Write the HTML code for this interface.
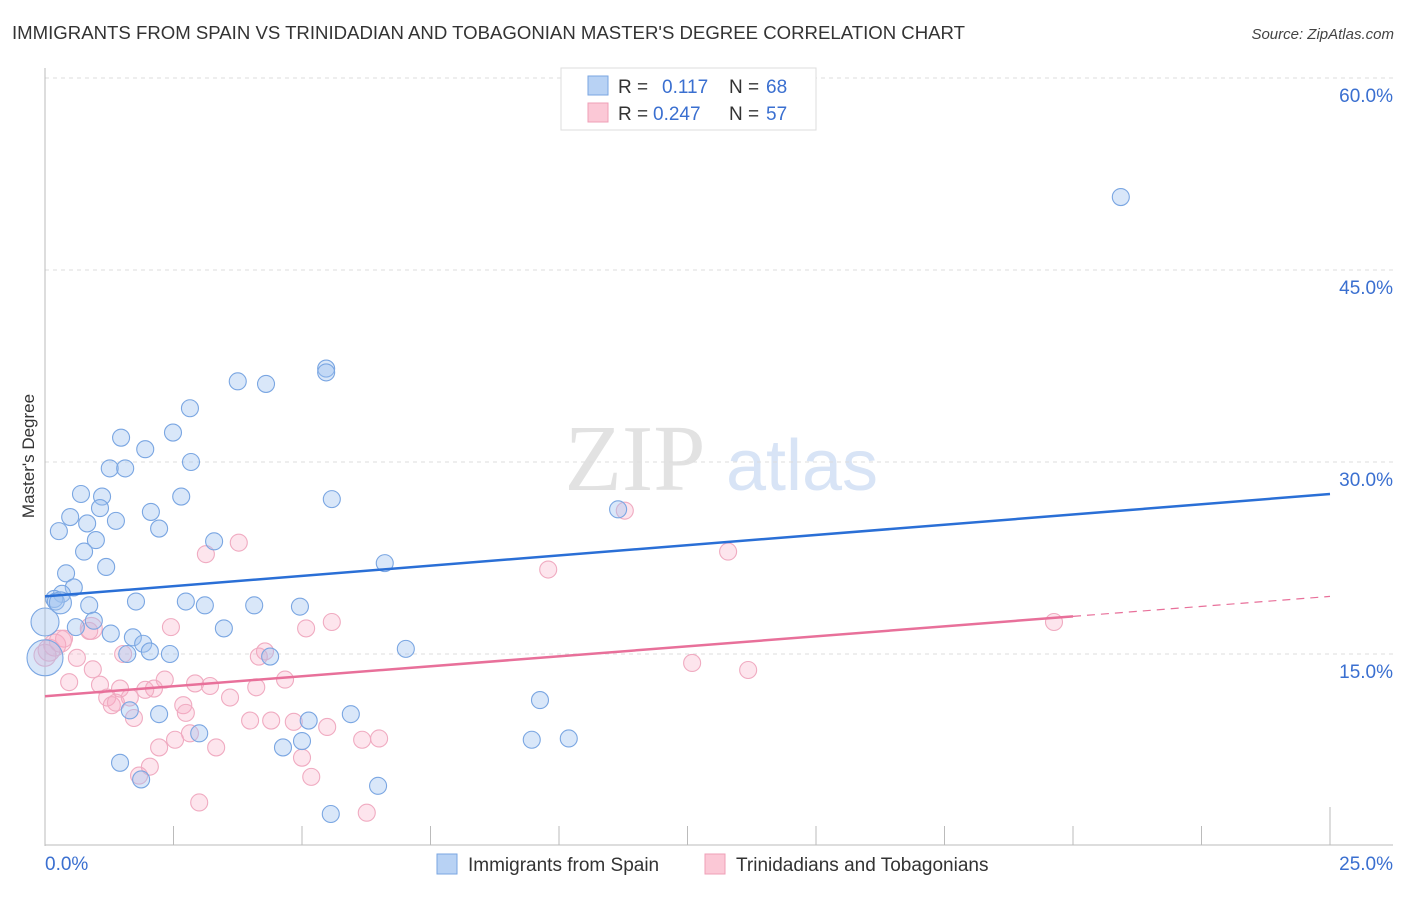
<!DOCTYPE html>
<html><head><meta charset="utf-8"><style>
body{margin:0;background:#fff;font-family:"Liberation Sans",sans-serif}
svg text{font-family:"Liberation Sans",sans-serif}
</style></head><body>
<svg width="1406" height="892" viewBox="0 0 1406 892" xmlns="http://www.w3.org/2000/svg">
<text x="12" y="39" font-size="18" fill="#333" textLength="953" lengthAdjust="spacingAndGlyphs">IMMIGRANTS FROM SPAIN VS TRINIDADIAN AND TOBAGONIAN MASTER'S DEGREE CORRELATION CHART</text>
<text x="1394" y="39" font-size="15" fill="#444" font-style="italic" text-anchor="end">Source: ZipAtlas.com</text>
<g>
<text x="635" y="490" font-size="94" fill="#e2e2e2" font-family="Liberation Serif" text-anchor="middle" style="font-family:'Liberation Serif',serif">ZIP</text>
<text x="802" y="490" font-size="72" fill="#d8e4f6" text-anchor="middle">atlas</text>
</g>
<g id="grid"></g>
<g id="axes"></g>
<g id="pts"></g>
<g id="trends"></g>
<text x="34" y="456" font-size="17" fill="#333" text-anchor="middle" transform="rotate(-90 34 456)">Master's Degree</text>
<g>
<rect x="561" y="68" width="255" height="62" fill="#fff" stroke="#ddd"/>
<rect x="588" y="76" width="20" height="19" fill="#b8d2f4" stroke="#7aa6e2"/>
<rect x="588" y="103" width="20" height="19" fill="#fbc8d6" stroke="#ef9fb7"/>
<text x="618" y="93" font-size="19" fill="#333">R =</text>
<text x="662" y="93" font-size="19" fill="#3a6fd0">0.117</text>
<text x="729" y="93" font-size="19" fill="#333">N =</text>
<text x="766" y="93" font-size="19" fill="#3a6fd0">68</text>
<text x="618" y="120" font-size="19" fill="#333">R =</text>
<text x="653" y="120" font-size="19" fill="#3a6fd0">0.247</text>
<text x="729" y="120" font-size="19" fill="#333">N =</text>
<text x="766" y="120" font-size="19" fill="#3a6fd0">57</text>
</g>
<g>
<rect x="437" y="854" width="20" height="20" fill="#b8d2f4" stroke="#7aa6e2"/>
<text x="468" y="871" font-size="19" fill="#333">Immigrants from Spain</text>
<rect x="705" y="854" width="20" height="20" fill="#fbc8d6" stroke="#ef9fb7"/>
<text x="736" y="871" font-size="19" fill="#333">Trinidadians and Tobagonians</text>
</g>
</svg>
<script>
const yTicks=[15,30,45,60];
const yTickLabels=["15.0%","30.0%","45.0%","60.0%"];
const xTickLabels=["0.0%","25.0%"];
const blueX=[20.93,5.47,5.47,3.75,4.30,2.82,2.49,1.48,1.95,2.84,1.26,1.56,0.70,1.11,2.65,5.58,1.07,2.06,11.15,0.49,1.38,0.82,0.27,2.22,3.29,0.99,0.76,1.19,6.61,0.41,0.56,0.33,0.18,0.21,1.77,2.74,3.11,4.07,4.96,0.86,0.95,0,0.60,1.28,3.48,1.71,1.91,2.04,2.43,1.60,7.02,4.38,0,3.00,5.13,5.95,2.22,1.65,9.63,4.63,5.00,9.47,10.19,1.46,1.87,6.48,5.56,0.3];
const blueY=[50.7,37.3,37.0,36.3,36.1,34.2,32.3,31.9,31.0,30.0,29.5,29.5,27.5,27.3,27.3,27.1,26.4,26.1,26.3,25.7,25.4,25.2,24.6,24.8,23.8,23.9,23.0,21.8,22.1,21.3,20.2,19.7,19.3,19.1,19.1,19.1,18.8,18.8,18.7,18.8,17.6,17.5,17.1,16.6,17.0,16.3,15.8,15.2,15.0,15.0,15.4,14.8,14.7,8.8,9.8,10.3,10.3,10.6,11.4,7.7,8.2,8.3,8.4,6.5,5.2,4.7,2.5,19.0];
const blueR=[8.5,8.5,8.5,8.5,8.5,8.5,8.5,8.5,8.5,8.5,8.5,8.5,8.5,8.5,8.5,8.5,8.5,8.5,8.5,8.5,8.5,8.5,8.5,8.5,8.5,8.5,8.5,8.5,8.5,8.5,8.5,8.5,8.5,8.5,8.5,8.5,8.5,8.5,8.5,8.5,8.5,14,8.5,8.5,8.5,8.5,8.5,8.5,8.5,8.5,8.5,8.5,18,8.5,8.5,8.5,8.5,8.5,8.5,8.5,8.5,8.5,8.5,8.5,8.5,8.5,8.5,11];
const pinkX=[11.28,3.77,3.13,13.29,9.79,19.63,5.58,2.45,5.08,0.86,0.37,0.19,0.08,0,1.52,4.28,4.16,0.62,0.93,12.59,13.68,0.47,2.33,4.67,1.07,1.46,2.12,2.92,3.21,1.95,4.11,1.21,1.65,3.60,2.69,1.30,1.38,2.74,1.73,3.99,4.40,4.84,5.49,2.82,2.53,2.22,3.33,6.17,6.50,5.00,2.04,1.83,5.18,3.00,6.26,0.9,0.3];
const pinkY=[26.2,23.7,22.8,23.0,21.6,17.5,17.5,17.1,17.0,16.8,16.2,15.7,15.3,14.9,15.0,15.2,14.8,14.7,13.8,14.3,13.75,12.8,13.0,13.0,12.6,12.3,12.3,12.7,12.5,12.2,12.4,11.6,11.6,11.6,11.0,11.0,11.2,10.4,10.0,9.8,9.8,9.7,9.3,8.8,8.3,7.7,7.7,8.3,8.4,6.9,6.2,5.5,5.4,3.4,2.6,17.0,16.0];
const blueTrend=[19.5,27.5];
const pinkTrend=[11.7,19.5];
const X0=45,X1=1330,Y0=846,PXP=192/15;
const sx=v=>X0+(X1-X0)*v/25, sy=v=>Y0-v*PXP;
const NS="http://www.w3.org/2000/svg";
function mk(t,a,p){const e=document.createElementNS(NS,t);for(const k in a)e.setAttribute(k,a[k]);p.appendChild(e);return e;}
const grid=document.getElementById('grid'),axes=document.getElementById('axes'),pts=document.getElementById('pts'),tr=document.getElementById('trends');
yTicks.forEach((v,i)=>{
 const l=mk('line',{x1:X0,x2:1393,y1:sy(v),y2:sy(v),stroke:'#ddd','stroke-dasharray':'4,4'},grid);
 
 
 const t=mk('text',{x:1393,y:sy(v)+24,'font-size':19,fill:'#3a6fd0','text-anchor':'end'},axes);t.textContent=yTickLabels[i];
 
 
});
mk('line',{x1:X0,x2:X0,y1:68,y2:846,stroke:'#bbb'},axes);
mk('line',{x1:X0,x2:1393,y1:845,y2:845,stroke:'#bbb'},axes);
for(let i=1;i<=10;i++){const x=sx(i*2.5);mk('line',{x1:x,x2:x,y1:i==10?807:826,y2:845,stroke:'#bbb'},axes);}
const xl0=mk('text',{x:45,y:870,'font-size':19,fill:'#3a6fd0'},axes);xl0.textContent=xTickLabels[0];


const xl1=mk('text',{x:1393,y:870,'font-size':19,fill:'#3a6fd0','text-anchor':'end'},axes);xl1.textContent=xTickLabels[1];


pinkX.forEach((v,i)=>{const c=mk('circle',{cx:sx(v),cy:sy(pinkY[i]),r:(i>=11&&i<=13)||i>=55?11:8.5,fill:'rgba(247,170,195,0.3)',stroke:'#f0abc1','stroke-width':1.1},pts);
 
 });
blueX.forEach((v,i)=>{const c=mk('circle',{cx:sx(v),cy:sy(blueY[i]),r:blueR[i],fill:'rgba(160,196,240,0.4)',stroke:'#7aa6e2','stroke-width':1.1},pts);
 
 });
const bl=mk('line',{x1:sx(0),y1:sy(blueTrend[0]),x2:sx(25),y2:sy(blueTrend[1]),stroke:'#2a6fd6','stroke-width':2.5},tr);


const pm=v=>pinkTrend[0]+(pinkTrend[1]-pinkTrend[0])*v/25;
const pl=mk('line',{x1:sx(0),y1:sy(pm(0)),x2:sx(20),y2:sy(pm(20)),stroke:'#e8709a','stroke-width':2.5},tr);


const pd=mk('line',{x1:sx(20),y1:sy(pm(20)),x2:sx(25),y2:sy(pm(25)),stroke:'#e8709a','stroke-width':1.2,'stroke-dasharray':'8,6'},tr);


</script>
</body></html>
